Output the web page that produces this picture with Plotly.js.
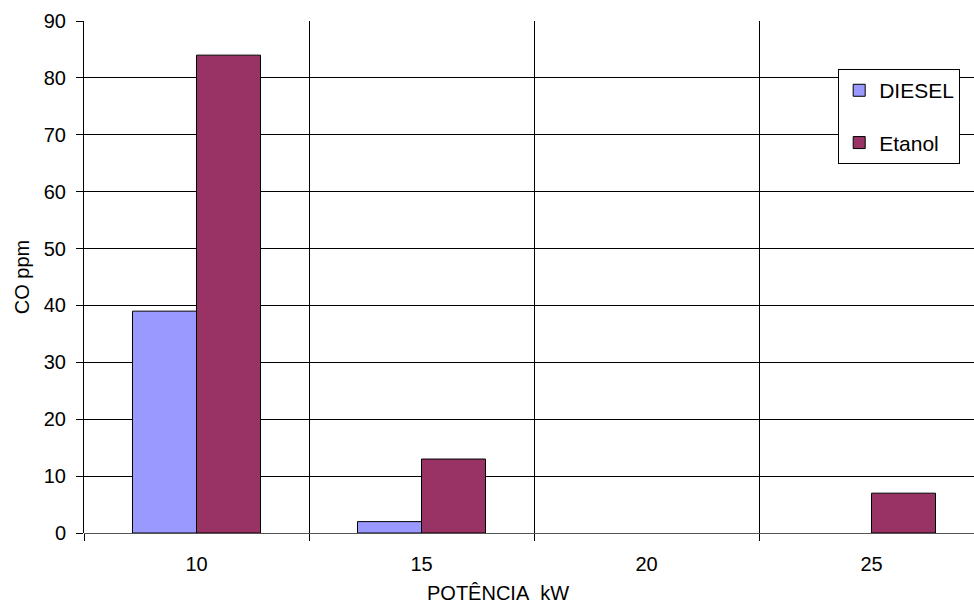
<!DOCTYPE html>
<html>
<head>
<meta charset="utf-8">
<script src="https://cdn.plot.ly/plotly-3.0.1.min.js"></script>
<style>
html,body{margin:0;padding:0;overflow:hidden;background:#fff;}
#chart{width:1000px;height:606px;}
</style>
</head>
<body>
<div id="chart"></div>
<script>
const categories = ["10", "15", "20", "25"];
const dieselValues = [39, 2, 0, 0];
const etanolValues = [84, 13, 0, 7];
const seriesNames = ["DIESEL", "Etanol"];
const yTicks = [0, 10, 20, 30, 40, 50, 60, 70, 80, 90];

const font = {family: "Liberation Sans, Arial, sans-serif", size: 20, color: "#000"};
const outlineWidths = vals => vals.map(v => (v > 0 ? 1 : 0));

const traces = [
  {type: "bar", name: seriesNames[0], x: categories, y: dieselValues, legendgroup: "a",
   marker: {color: "#9999FF", line: {color: "#000", width: outlineWidths(dieselValues)}}},
  {type: "bar", name: seriesNames[1], x: categories, y: etanolValues, legendgroup: "b",
   marker: {color: "#993366", line: {color: "#000", width: outlineWidths(etanolValues)}}}
];

const layout = {
  width: 1000, height: 606,
  margin: {l: 84, r: 16, t: 21, b: 73},
  paper_bgcolor: "#fff", plot_bgcolor: "#fff",
  font: font,
  barmode: "group", bargap: 0.431, bargroupgap: 0,
  showlegend: true,
  legend: {x: 0.838, y: 0.906, xanchor: "left", yanchor: "top",
    bgcolor: "#fff", bordercolor: "#000", borderwidth: 1,
    font: {family: font.family, size: 21, color: "#000"}, itemwidth: 30,
    traceorder: "grouped", tracegroupgap: 22},
  xaxis: {type: "category", tickson: "boundaries", ticks: "outside", ticklen: 7, tickcolor: "#000",
    showgrid: true, gridcolor: "#000", gridwidth: 1, showline: false, zeroline: false,
    ticklabelstandoff: 17,
    tickfont: font, title: {text: ""}},
  yaxis: {range: [0, 90], tickvals: yTicks, ticks: "outside", ticklen: 7, tickcolor: "#000",
    showline: true, linecolor: "#000", linewidth: 1, showgrid: true, gridcolor: "#000", gridwidth: 1,
    zeroline: true, zerolinecolor: "#555", zerolinewidth: 1,
    ticklabelstandoff: 6,
    tickfont: font, title: {text: "CO ppm", font: font, standoff: 8}},
  annotations: [
    {text: "POTÊNCIA\u00a0 kW", xref: "paper", yref: "paper", x: 0.46, y: 0, yshift: -60,
     xanchor: "center", yanchor: "middle", showarrow: false, font: font}
  ]
};

Plotly.newPlot("chart", traces, layout, {displayModeBar: false, staticPlot: true});
</script>
</body>
</html>
